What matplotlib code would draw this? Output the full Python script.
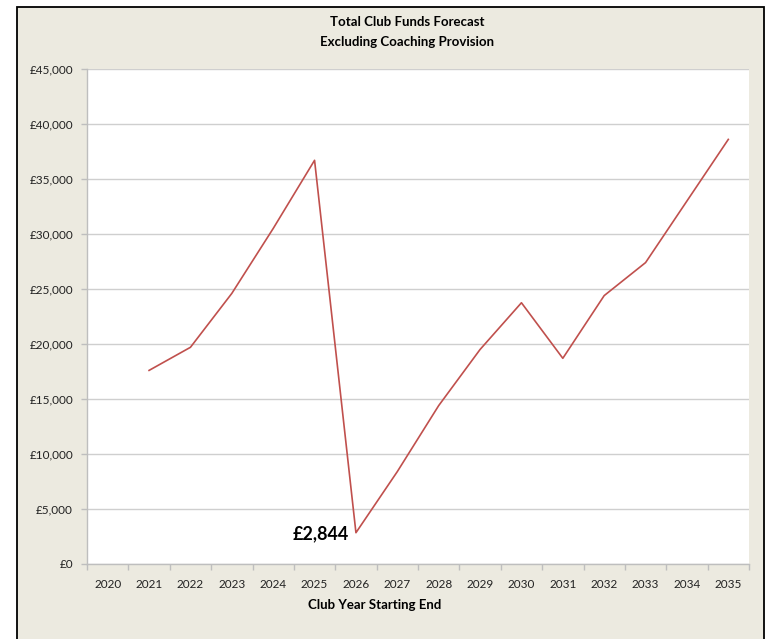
import matplotlib.pyplot as plt
from matplotlib.patches import Rectangle
from matplotlib.ticker import FuncFormatter, FixedLocator

plt.rcParams['font.family'] = ['Lato', 'DejaVu Sans']

# data
years = ['2020', '2021', '2022', '2023', '2024', '2025', '2026', '2027',
         '2028', '2029', '2030', '2031', '2032', '2033', '2034', '2035']
funds = [None, 17600, 19700, 24600, 30500, 36700, 2844, 8400,
         14400, 19500, 23750, 18700, 24400, 27400, 33000, 38600]
y_ticks = [0, 5000, 10000, 15000, 20000, 25000, 30000, 35000, 40000, 45000]

W, H = 767, 639
fig = plt.figure(figsize=(W / 100, H / 100), dpi=100, facecolor='white')

# beige chart panel with black frame
panel = Rectangle((17 / W, -0.05), (764 - 17) / W, 1.05 - 7 / H,
                  transform=fig.transFigure, facecolor='#ECEAE0',
                  edgecolor='black', linewidth=1.3, zorder=-5)
fig.patches.append(panel)

ax = fig.add_axes([87 / W, 1 - 564 / H, (749 - 87) / W, (564 - 69) / H])
ax.set_zorder(2)
ax.set_facecolor('white')

x = [i for i, v in enumerate(funds) if v is not None]
y = [v for v in funds if v is not None]
ax.plot(x, y, color='#C0504D', linewidth=1.2, zorder=3)

ax.set_xlim(-0.5, len(years) - 0.5)
ax.set_ylim(0, 45000)

ax.set_yticks(y_ticks)
ax.yaxis.set_major_formatter(FuncFormatter(lambda v, p: '£{:,.0f}'.format(v)))
ax.grid(axis='y', color='#CFCFCF', linewidth=1.0, zorder=1)

ax.set_xticks(range(len(years)))
ax.set_xticklabels(years)
ax.xaxis.set_minor_locator(FixedLocator([i - 0.5 for i in range(len(years) + 1)]))
ax.tick_params(axis='x', which='major', length=0, pad=11, labelsize=8.5, labelcolor='#222222')
ax.tick_params(axis='x', which='minor', length=4, color='#BEBEBE', width=1)
ax.tick_params(axis='y', length=4, color='#BEBEBE', width=1, labelsize=8.5,
               pad=6, labelcolor='#222222')

for s in ['top', 'right']:
    ax.spines[s].set_visible(False)
for s in ['left', 'bottom']:
    ax.spines[s].set_color('#BEBEBE')
    ax.spines[s].set_linewidth(1.0)

# low point label
ax.annotate('£2,844', xy=(6, 2844), xytext=(-5, -1), textcoords='offset points',
            ha='right', va='center', fontsize=13, fontweight='bold', color='black')

fig.text(407 / W, 1 - 22 / H, 'Total Club Funds Forecast', ha='center', va='center',
         fontsize=9.5, fontweight='bold', color='black')
fig.text(407 / W, 1 - 42 / H, 'Excluding Coaching Provision', ha='center', va='center',
         fontsize=9.5, fontweight='bold', color='black')
fig.text(375 / W, 1 - 605 / H, 'Club Year Starting End', ha='center', va='center',
         fontsize=9.5, fontweight='bold', color='black')

fig.savefig('out.png', dpi=100, facecolor=fig.get_facecolor())
